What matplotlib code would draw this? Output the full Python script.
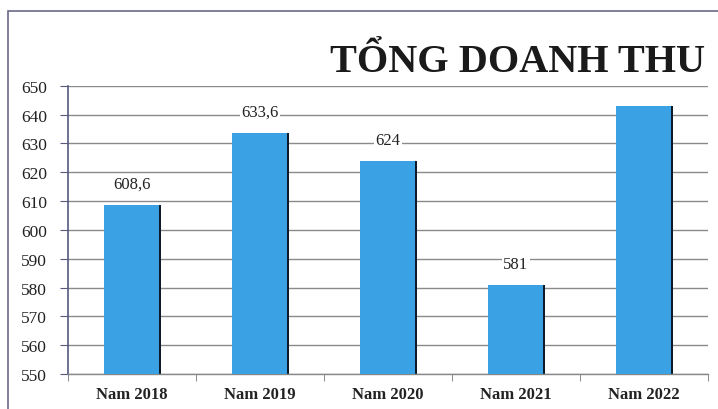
import matplotlib
matplotlib.use("Agg")
import matplotlib.pyplot as plt
from matplotlib.patches import Rectangle
import numpy as np

categories = ["Nam 2018", "Nam 2019", "Nam 2020", "Nam 2021", "Nam 2022"]
values = [608.6, 633.6, 624, 581, 643]
labels = ["608,6", "633,6", "624", "581", ""]
yticks = [550, 560, 570, 580, 590, 600, 610, 620, 630, 640, 650]

serif = ["Liberation Serif", "DejaVu Serif"]

fig = plt.figure(figsize=(7.18, 4.10), dpi=100)
fig.patch.set_facecolor("white")
ax = fig.add_axes([0.0947, 0.0854, 0.891, 0.703])

x = np.arange(len(categories))
w = 0.43
# dark shadow on right edge
ax.bar(x + 0.012, [v - 550 for v in values], width=w, bottom=550,
       color="#0d1a2a", zorder=2)
ax.bar(x, [v - 550 for v in values], width=w, bottom=550,
       color="#3aa2e4", zorder=3)

for xi, v, lab in zip(x, values, labels):
    if lab:
        ax.text(xi, v + 4.5, lab, ha="center", va="bottom", fontsize=12,
                family=serif, color="#222222", zorder=4,
                bbox=dict(facecolor="white", edgecolor="none", pad=1))

ax.set_ylim(550, 650)
ax.set_xlim(-0.5, len(categories) - 0.5)
ax.set_yticks(yticks)
ax.set_yticklabels([str(t) for t in yticks], family=serif, fontsize=12.5,
                   color="#222222")
ax.set_xticks(x)
ax.set_xticklabels(categories, family=serif, fontsize=12, fontweight="bold",
                   color="#222222")
ax.set_xticks(np.arange(len(categories) + 1) - 0.5, minor=True)
ax.tick_params(axis="x", which="major", length=0, pad=9)
ax.tick_params(axis="x", which="minor", length=5, color="#777777")
ax.tick_params(axis="y", length=6, color="#555a80", pad=9)
ax.yaxis.grid(True, color="#8a8a8a", linewidth=1.0, zorder=0)
ax.set_axisbelow(True)
for s in ["top", "right"]:
    ax.spines[s].set_visible(False)
ax.spines["left"].set_color("#555a80")
ax.spines["left"].set_linewidth(1.2)
ax.spines["bottom"].set_color("#888888")
ax.spines["bottom"].set_linewidth(1.0)

fig.text(0.982, 0.848, "TỔNG DOANH THU", ha="right", va="center",
         fontsize=29, fontweight="bold", family=serif, color="#1a1a1a",
         zorder=10,
         bbox=dict(facecolor="white", edgecolor="none", pad=4))

fig.add_artist(Rectangle((0.011, -0.01), 1.2, 0.98, transform=fig.transFigure,
                         fill=False, edgecolor="#6a6a8a", linewidth=1.2))

fig.savefig("out.png", dpi=100)
